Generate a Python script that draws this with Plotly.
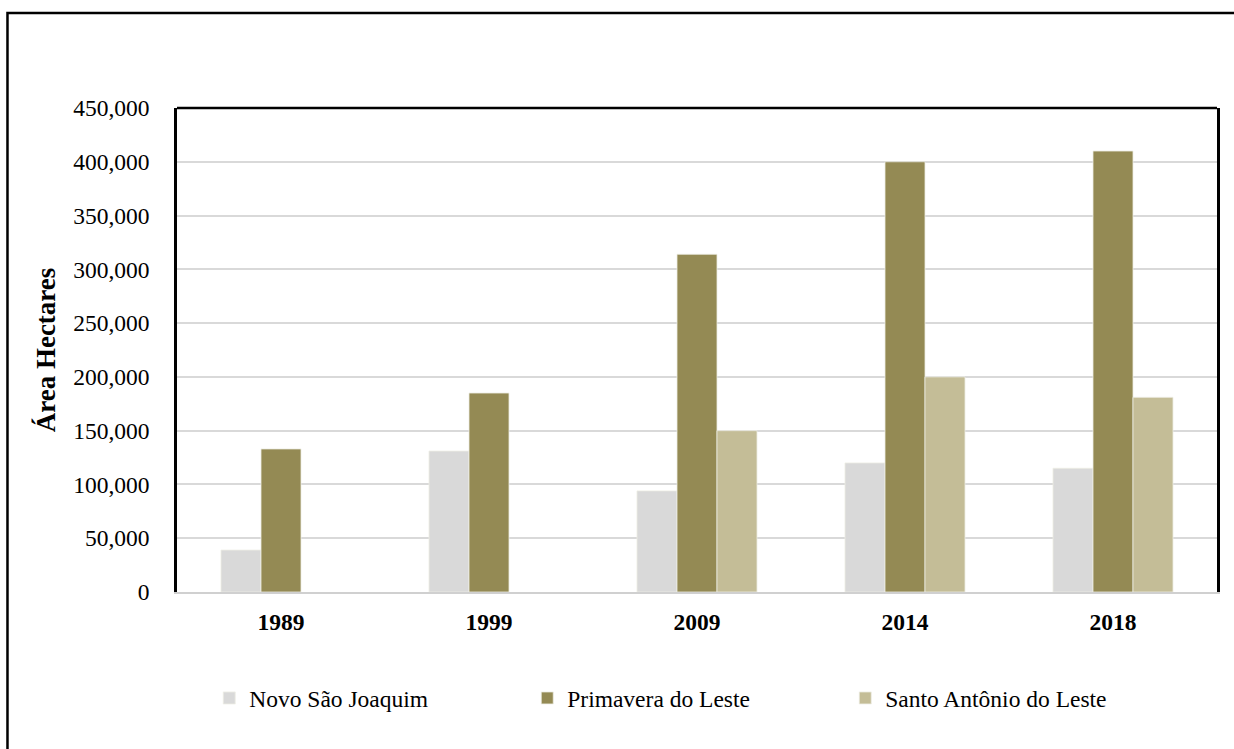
import plotly.graph_objects as go

years = ["1989", "1999", "2009", "2014", "2018"]
novo_sao_joaquim = [39000, 131000, 94000, 120000, 115000]
primavera_do_leste = [133000, 185000, 314000, 400000, 410000]
santo_antonio_do_leste = [None, None, 150000, 200000, 181000]

series_names = ["Novo São Joaquim", "Primavera do Leste", "Santo Antônio do Leste"]
series_colors = ["#D9D9D9", "#948A54", "#C4BD97"]

FONT = "Liberation Serif, Times New Roman, serif"
FS = 23.5

fig = go.Figure()
for name, vals, color in zip(series_names,
                             [novo_sao_joaquim, primavera_do_leste, santo_antonio_do_leste],
                             series_colors):
    fig.add_trace(go.Bar(
        x=years, y=vals, name=name,
        marker=dict(color=color, line=dict(color="#EEEEE4", width=0.8)),
    ))

fig.update_layout(
    width=1234, height=749,
    margin=dict(l=177, r=17, t=108, b=157),
    paper_bgcolor="white", plot_bgcolor="white",
    barmode="group", bargap=0.423, bargroupgap=0,
    font=dict(family=FONT, size=FS, color="black"),
    showlegend=True,
    legend=dict(
        orientation="h", x=0.031, xref="paper", y=-0.2194, yanchor="middle",
        entrywidth=273, entrywidthmode="pixels",
        itemwidth=30, font=dict(family=FONT, size=FS, color="black"),
        bgcolor="rgba(0,0,0,0)", traceorder="normal",
    ),
    xaxis=dict(
        showline=True, linecolor="#D0D0D0", linewidth=2,
        showgrid=False, ticks="",
        tickvals=years, ticktext=[f"<b>{y}</b>" for y in years],
        tickfont=dict(family=FONT, size=FS, color="black"),
        ticklabelstandoff=8, zeroline=False,
    ),
    yaxis=dict(
        range=[0, 450000], dtick=50000, tickformat=",",
        showline=True, linecolor="black", linewidth=2.5, mirror=True,
        showgrid=True, gridcolor="#D9D9D9", gridwidth=2,
        zeroline=False, ticks="", ticklabelstandoff=20,
        tickfont=dict(family=FONT, size=FS, color="black"),
        title=dict(text="<b>Área Hectares</b>", standoff=10,
                   font=dict(family=FONT, size=27, color="black")),
    ),
    shapes=[
        # top edge of the plotting area
        dict(type="line", xref="paper", yref="paper", x0=0, x1=1, y0=1, y1=1,
             line=dict(color="black", width=2.5)),
        # frame around the whole chart
        dict(type="rect", xref="paper", yref="paper",
             x0=-0.1630, x1=1.5, y0=-0.8, y1=1.1964,
             line=dict(color="black", width=2.5), layer="above"),
    ],
)

fig.write_html("out.html", config={"displayModeBar": False})
